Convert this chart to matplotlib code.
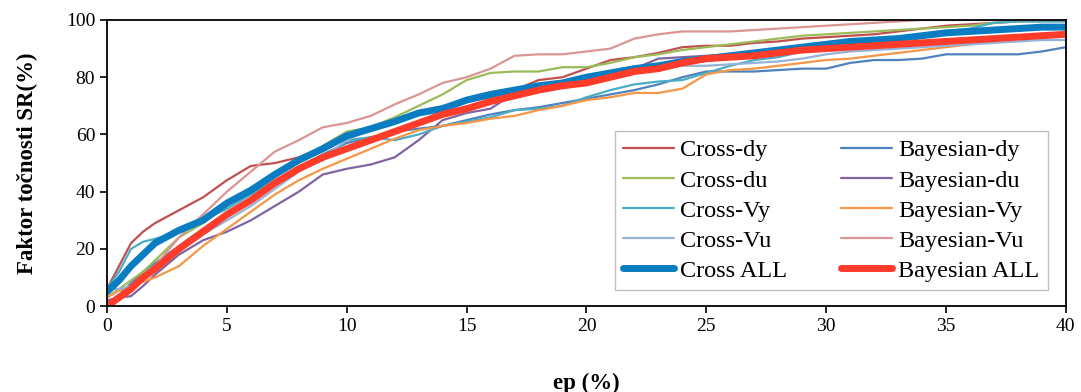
import matplotlib
matplotlib.use("Agg")
import matplotlib.pyplot as plt

ep = [0, 0.5, 1, 1.5, 2, 3, 4, 5, 6, 7, 8, 9, 10, 11, 12, 13, 14, 15, 16, 17, 18, 19, 20,
      21, 22, 23, 24, 25, 26, 27, 28, 29, 30, 31, 32, 33, 34, 35, 36, 37, 38, 39, 40]

cross_dy = [6, 14, 22, 26, 29, 33.5, 38, 44, 49, 50, 52, 55.5, 60, 62, 64, 67, 69, 71.5, 73, 75.5, 79, 80, 83,
            86, 87, 88.5, 90.5, 91, 91, 92, 92.5, 93.5, 94, 94.5, 95, 96, 97, 98, 98.5, 99, 99.5, 100, 100]
cross_du = [3, 6, 9, 12, 16, 24, 29, 35, 41, 46, 51, 56, 61, 62.5, 66, 70, 74, 79, 81.5, 82, 82, 83.5, 83.5,
            85, 87, 88, 89.5, 90.5, 91.5, 92.5, 93.5, 94.5, 95, 95.5, 96, 96.5, 97, 97.5, 98, 99, 99.5, 99.5, 99.5]
cross_vy = [6, 12, 20, 22.5, 23.5, 26, 30, 34, 39, 44, 48, 51, 58, 59, 58, 60, 63, 64.5, 66, 68.5, 69, 70, 73,
            75.5, 77.5, 78.5, 79, 81.5, 84, 86, 87, 89, 90.5, 92, 93, 94, 95, 96, 97, 99, 99.5, 99.5, 99.5]
cross_vu = [6, 6, 7, 10, 13, 19, 25, 30, 35, 41, 47, 52, 58, 62, 65, 68, 70, 72, 74, 75.5, 77, 78, 80,
            81, 82, 83, 84, 84, 84.5, 85, 85.5, 86.5, 88, 89, 89.5, 90, 90.5, 91, 91.5, 92, 92.5, 93, 93]
bayes_dy = [1, 4, 8, 12, 15, 21, 27, 32, 37, 43, 48, 53, 57, 59, 61, 62, 63, 65, 67, 68.5, 69.5, 71, 72.5,
            74, 75.5, 77.5, 80, 82, 82, 82, 82.5, 83, 83, 85, 86, 86, 86.5, 88, 88, 88, 88, 89, 90.5]
bayes_du = [2, 3, 3.5, 7, 11, 18, 23, 26, 30, 35, 40, 46, 48, 49.5, 52, 58, 65, 67.5, 69, 74.5, 76, 77.5, 78.5,
            80.5, 83, 86.5, 87, 87.5, 88, 89, 90, 91, 92, 93, 93.5, 94, 94.5, 95.5, 96, 96.5, 97, 97.5, 98]
bayes_vy = [3, 5.5, 7, 8.5, 10, 14, 21, 27, 33, 39, 44, 48, 51.5, 55, 58.5, 61.5, 63, 64, 65.5, 66.5, 68.5, 70, 72,
            73, 74.5, 74.5, 76, 81, 82.5, 83, 84, 85, 86, 86.5, 87.5, 88.5, 89.5, 90.5, 91.5, 93, 94, 94.5, 95]
bayes_vu = [1, 3, 6, 10, 14, 24, 32, 40, 47, 54, 58, 62.5, 64, 66.5, 70.5, 74, 78, 80, 83, 87.5, 88, 88, 89,
            90, 93.5, 95, 96, 96, 96, 96.5, 97, 97.5, 98, 98.5, 99, 99.5, 100, 100, 100, 100, 100, 100, 100]
cross_all = [5, 9, 14, 18, 22, 26.5, 30, 36, 40.5, 46, 51, 55, 59.5, 62, 64.5, 67.5, 69, 72, 74, 75.5, 77, 78, 80,
             81.5, 83, 84, 85.5, 86.5, 87.5, 88.5, 89.5, 90.5, 91.5, 92.5, 93, 93.5, 94.5, 95.5, 96, 96.5, 97, 97.5, 97.5]
bayes_all = [0, 3, 6, 10, 13, 20, 26, 32, 37, 43, 48, 52, 55, 58, 61, 64, 67, 69, 71.5, 73.5, 75.5, 77, 78,
             80, 82, 83, 85, 86.5, 87, 87.5, 88.5, 89.5, 90, 90.5, 91, 91.5, 92, 92.5, 93, 93.5, 94, 94.5, 95]

x_ticks = [0, 5, 10, 15, 20, 25, 30, 35, 40]
y_ticks = [0, 20, 40, 60, 80, 100]

serif = ["Liberation Serif", "DejaVu Serif"]
plt.rcParams["font.family"] = serif

fig = plt.figure(figsize=(10.81, 3.92), dpi=100)
ax = fig.add_axes([0.099, 0.219, 0.887, 0.730])

thin = 1.6
thick = 5.0
common = dict(solid_joinstyle="round", solid_capstyle="round")
l_cdy, = ax.plot(ep, cross_dy, color="#C0504D", lw=thin, label="Cross-dy", **common)
l_bdy, = ax.plot(ep, bayes_dy, color="#4F81BD", lw=thin, label="Bayesian-dy", **common)
l_cdu, = ax.plot(ep, cross_du, color="#9BBB59", lw=thin, label="Cross-du", **common)
l_bdu, = ax.plot(ep, bayes_du, color="#8064A2", lw=thin, label="Bayesian-du", **common)
l_cvy, = ax.plot(ep, cross_vy, color="#4BACC6", lw=thin, label="Cross-Vy", **common)
l_bvy, = ax.plot(ep, bayes_vy, color="#F79646", lw=thin, label="Bayesian-Vy", **common)
l_cvu, = ax.plot(ep, cross_vu, color="#95B3D7", lw=thin, label="Cross-Vu", **common)
l_bvu, = ax.plot(ep, bayes_vu, color="#D99694", lw=thin, label="Bayesian-Vu", **common)
l_call, = ax.plot(ep, cross_all, color="#0A7CC1", lw=thick, label="Cross ALL", **common)
l_ball, = ax.plot(ep, bayes_all, color="#FF3B2A", lw=thick, label="Bayesian ALL", **common)

ax.set_xlim(0, 40)
ax.set_ylim(0, 100)
ax.set_xticks(x_ticks)
ax.set_yticks(y_ticks)
ax.tick_params(direction="out", length=5, width=1.2, labelsize=14, colors="black")
for s in ax.spines.values():
    s.set_linewidth(1.3)
    s.set_color("black")

ax.set_xlabel("ep (%)", fontsize=16.5, fontweight="bold", labelpad=27)
ax.set_ylabel("Faktor točnosti SR(%)", fontsize=16.5, fontweight="bold", labelpad=20)

handles = [l_cdy, l_cdu, l_cvy, l_cvu, l_call, l_bdy, l_bdu, l_bvy, l_bvu, l_ball]
leg = ax.legend(handles=handles, labels=[h.get_label() for h in handles], ncol=2,
                loc="lower right", bbox_to_anchor=(0.981, 0.056), fontsize=17.5,
                frameon=True, fancybox=False, edgecolor="#BFBFBF", framealpha=1,
                handlelength=2.1, handletextpad=0.25, columnspacing=2.2,
                labelspacing=0.33, borderpad=0.35, borderaxespad=0)
leg.get_frame().set_linewidth(1.0)

fig.savefig("out.png", dpi=100)
